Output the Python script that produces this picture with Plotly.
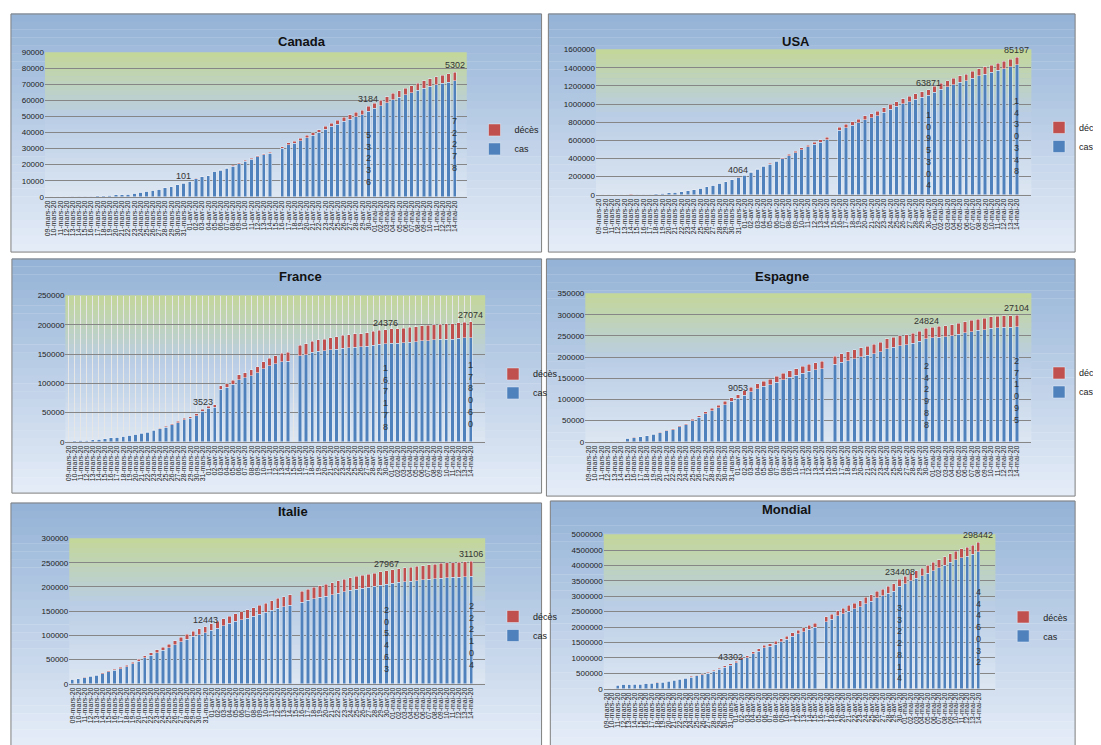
import plotly.graph_objects as go

W, H = 1101, 745

dates = ([f"{d:02d}-mars-20" for d in range(9, 32)]
         + [f"{d:02d}-avr-20" for d in range(1, 31)]
         + [f"{d:02d}-mai-20" for d in range(1, 15)])

# cas / décès par pays (None = jour manquant)
canada_cas = [77, 93, 108, 117, 193, 250, 341, 441, 598, 727, 873,
              1087, 1328, 1469, 2088, 2792, 3409, 4043, 4757, 5655, 6320, 7398,
              8527,
              9560, 11283, 12437, 12978, 15756, 16563, 17883, 19141, 20654, 22148, 23318, 24804, 26163, 27063,
              None,
              30106, 32412, 33383, 35056, 36829, 38422, 40190, 42110, 43888, 45354, 47138, 48500, 50026, 51150,
              53236,
              55061, 56714, 58712, 60616, 62046, 63496, 64922, 66434, 67702, 68848, 69981, 70771, 71486, 72278]
canada_deces = [1, 1, 1, 1, 1, 1, 1, 4, 8, 9, 12,
                13, 19, 21, 25, 27, 35, 39, 54, 61, 66, 89,
                101,
                119, 131, 182, 217, 261, 279, 324, 375, 425, 509, 569, 653, 714, 781,
                None,
                1010, 1195, 1264, 1357, 1470, 1591, 1758, 1915, 2075, 2228, 2380, 2560, 2707, 2859,
                3184,
                3311, 3566, 3682, 3854, 4003, 4167, 4232, 4480, 4628, 4697, 4871, 4993, 5169, 5302]

usa_cas = [566, 696, 1050, 1312, 2174, 2951, 3774, 4661, 6427, 9415, 14250,
           19624, 26747, 35206, 46442, 55231, 69194, 85991, 104686, 124665, 143025, 164620,
           189618,
           216722, 245540, 278458, 312245, 337072, 366667, 396223, 429052, 461437, 496535, 526396, 555313, 580619, 607670,
           None,
           710272, 738923, 763832, 792759, 828441, 849092, 873206, 906551, 944439, 972969, 1003974, 1027042, 1054614, 1072440,
           1095304,
           1131030, 1160774, 1188122, 1212835, 1237633, 1256972, 1283929, 1309550, 1329260, 1347881, 1369376, 1390406, 1408636, 1430348]
usa_deces = [22, 26, 31, 38, 41, 57, 69, 87, 108, 150, 207,
             256, 302, 414, 553, 705, 947, 1305, 1696, 2191, 2509, 3170,
             4064,
             5101, 6095, 7391, 8452, 9648, 10871, 12895, 14817, 16686, 18761, 20577, 22108, 23644, 26033,
             None,
             34475, 37183, 39015, 40575, 42514, 45075, 47412, 49963, 52160, 53755, 54881, 56219, 58355, 60967,
             63871,
             65753, 67444, 68919, 70115, 71064, 72271, 74799, 76898, 78771, 80037, 81795, 82389, 83425, 85197]

france_cas = [1200, 1700, 2200, 2800, 3600, 4400, 5300, 6500, 7600, 9000, 10800,
              12600, 14400, 16000, 19800, 22300, 25200, 29100, 32900, 37500, 40100, 44500,
              52128,
              56989, 59105, 89953, 92839, 98010, 106206, 109252, 112950, 117749, 124869, 129654, 133470, 136779, 137877,
              None,
              147091, 149130, 152894, 154715, 155383, 156921, 158050, 159877, 160847, 161644, 162220, 163474, 165093, 166420,
              167178,
              168396, 168693, 169583, 170551, 170687, 172465, 173040, 174191, 174918, 175027, 175225, 176658, 177423, 178060]
france_deces = [25, 33, 48, 61, 79, 91, 127, 148, 175, 264, 372,
                450, 562, 674, 860, 1100, 1331, 1696, 1995, 2314, 2606, 3024,
                3523,
                4032, 4503, 5387, 6507, 7560, 8078, 8911, 10328, 10869, 12210, 13197, 13832, 14393, 14967,
                None,
                17920, 18681, 19323, 19718, 20265, 20796, 21340, 21856, 22245, 22614, 22856, 23293, 23660, 24087,
                24376,
                24594, 24760, 24895, 25201, 25531, 25809, 25987, 26230, 26310, 26380, 26643, 26816, 26991, 27074]

espagne_cas = [0, 0, 0, 0, 0, 0,
               7798, 9942, 11748, 13910, 17963, 21571, 25374, 28768, 35136, 39885, 49515, 57786, 65719, 73235, 80110, 87956, 95923,
               102136,
               110238, 117710, 124736, 130759, 135032, 140510, 146690, 152446, 157022, 161852, 166019, 169496, 172541,
               None,
               182816, 188068, 191726, 195944, 200210, 204178, 208389, 213024, 219764, 223759, 226629, 229422, 232128, 236899,
               242988,
               245567, 247122, 248301, 250561, 253682, 256855, 260117, 262783, 264663, 268143, 269520, 270166, 270571, 271095]
espagne_deces = [0, 0, 0, 0, 0, 0,
                 288, 309, 491, 598, 767, 1002, 1326, 1720, 2182, 2696, 3434, 4089, 4858, 5690, 6528, 7340, 8189,
                 9053,
                 10003, 10935, 11744, 12418, 13055, 13798, 14555, 15238, 15843, 16353, 16972, 17489, 18056,
                 None,
                 19130, 20043, 20453, 20852, 21282, 21717, 22157, 22524, 22902, 23190, 23521, 23822, 24275, 24543,
                 24824,
                 25100, 25264, 25428, 25613, 25857, 26070, 26299, 26478, 26621, 26744, 26920, 26980, 27050, 27104]

italie_cas = [9172, 10149, 12462, 15113, 17660, 21157, 24747, 27980, 31506, 35713, 41035, 47021,
              53578, 59138, 63927, 69176, 74386, 80589, 86498, 92472, 97689, 101739, 105792,
              110574,
              115242, 119827, 124632, 128948, 132547, 135586, 139422, 143626, 147577, 152271, 156363, 159516, 162488,
              None,
              168941, 172434, 175925, 178972, 181228, 183957, 187327, 189973, 192994, 195351, 197675, 199414, 201505, 203591,
              205463,
              207428, 209328, 210717, 211938, 213013, 214457, 215858, 217185, 218268, 219070, 219814, 220500, 221216, 222104]
italie_deces = [463, 631, 827, 1016, 1266, 1441, 1809, 2158, 2503, 2978, 3405, 4032,
                4825, 5476, 6077, 6820, 7503, 8165, 9134, 10023, 10779, 11591, 12443,
                13155, 13915, 14681, 15362, 15887, 16523, 17127, 17669, 18279, 18849, 19468, 19899, 20465, 21067,
                None,
                22170, 22745, 23227, 23660, 24114, 24648, 25085, 25549, 25969, 26384, 26644, 26977, 27359, 27682,
                27967,
                28236, 28710, 28884, 29079, 29315, 29684, 29958, 30201, 30395, 30560, 30739, 30911, 31000, 31106]

mondial_cas = [0, 0,
               120000, 140000, 145000, 150000, 153000, 175000, 182000, 195000, 210000, 240000, 272000,
               305000, 338000, 380000, 418000, 460000, 510000, 570000, 630000, 700000,
               760000,
               850000, 945000, 1010000, 1130000, 1220000, 1330000, 1380000, 1450000, 1520000, 1600000,
               1700000, 1780000, 1850000, 1930000, 1990000,
               None,
               2170000, 2250000, 2360000, 2430000, 2520000, 2590000, 2660000, 2760000, 2840000, 2950000, 3010000, 3100000, 3170000,
               3322814,
               3410000, 3500000, 3580000, 3660000, 3740000, 3830000, 3920000, 4010000, 4100000, 4180000, 4250000, 4300000, 4360000, 4446032]
mondial_deces = [0, 0,
                 4600, 5400, 5800, 6500, 7100, 7900, 8900, 9800, 11000, 13000, 15000,
                 16500, 19000, 22000, 24500, 28000, 31500, 34000, 37500, 40500,
                 43302,
                 47000, 53000, 59000, 65000, 70000, 75000, 82000, 89000, 96000, 103000,
                 109000, 115000, 120000, 127000, 135000,
                 None,
                 160000, 166000, 172000, 177000, 183000, 190000, 196000, 200000, 206000, 211000, 217000, 222000, 228000,
                 234408,
                 240000, 245000, 250000, 255000, 260000, 266000, 271000, 276000, 280000, 284000, 288000, 291000, 295000, 298442]

# (titre, cas, décès, ymax, dtick, panneau px, zone de tracé px, idx label 1, grille x)
panels = [
    ("Canada", canada_cas, canada_deces, 90000, 10000, (2, 2, 548, 243), (37, 41, 471, 187), 22, False),
    ("USA", usa_cas, usa_deces, 1600000, 200000, (555, 2, 1097, 243), (604, 38, 1052, 185), 22, False),
    ("France", france_cas, france_deces, 250000, 50000, (3, 250, 548, 487), (58, 287, 490, 435), 22, True),
    ("Espagne", espagne_cas, espagne_deces, 350000, 50000, (553, 250, 1097, 490), (593, 285, 1052, 435), 23, False),
    ("Italie", italie_cas, italie_deces, 300000, 50000, (2, 497, 548, 743), (62, 533, 490, 680), 22, False),
    ("Mondial", mondial_cas, mondial_deces, 5000000, 500000, (557, 495, 1097, 743), (612, 529, 1015, 685), 22, False),
]

BLUE = "#4F81BD"
RED = "#C0504D"


def fx(px):
    return px / W


def fy(py):
    return 1 - py / H


def mix(c1, c2, t):
    return "rgb(%d,%d,%d)" % tuple(round(a + (b - a) * t) for a, b in zip(c1, c2))


fig = go.Figure()
shapes, annotations = [], []
layout = {}

for i, (name, cas, deces, ymax, dtick, pan, plot, lab1, xgrid) in enumerate(panels):
    n = i + 1
    xa = "x" if n == 1 else f"x{n}"
    ya = "y" if n == 1 else f"y{n}"
    lg = "legend" if n == 1 else f"legend{n}"

    # fond dégradé du panneau
    x0, y0, x1, y1 = pan
    steps = 30
    for k in range(steps):
        t = k / (steps - 1)
        shapes.append(dict(type="rect", xref="paper", yref="paper", layer="below",
                           x0=fx(x0), x1=fx(x1),
                           y0=fy(y0 + (y1 - y0) * (k + 1) / steps), y1=fy(y0 + (y1 - y0) * k / steps) + 0.0005,
                           fillcolor=mix((149, 179, 215), (228, 236, 247), t), line_width=0))
    shapes.append(dict(type="rect", xref="paper", yref="paper", x0=fx(x0), x1=fx(x1), y0=fy(y1), y1=fy(y0),
                       line=dict(color="#7F7F7F", width=1), fillcolor="rgba(0,0,0,0)"))

    # fond dégradé de la zone de tracé
    px0, py0, px1, py1 = plot
    for k in range(steps):
        t = k / (steps - 1)
        if t < 0.45:
            c = mix((196, 215, 155), (185, 205, 229), t / 0.45)
        else:
            c = mix((185, 205, 229), (220, 230, 242), (t - 0.45) / 0.55)
        shapes.append(dict(type="rect", xref="paper", yref="paper", layer="below",
                           x0=fx(px0), x1=fx(px1),
                           y0=fy(py0 + (py1 - py0) * (k + 1) / steps), y1=fy(py0 + (py1 - py0) * k / steps) + 0.0005,
                           fillcolor=c, line_width=0))

    fig.add_trace(go.Bar(x=dates, y=cas, name="cas", marker_color=BLUE, xaxis=xa, yaxis=ya, legend=lg))
    fig.add_trace(go.Bar(x=dates, y=deces, name="décès", marker_color=RED, xaxis=xa, yaxis=ya, legend=lg))

    layout["xaxis" if n == 1 else f"xaxis{n}"] = dict(
        domain=[fx(px0), fx(px1)], anchor=ya, type="category", tickangle=-90,
        tickmode="array", tickvals=dates, ticktext=dates,
        tickfont=dict(size=7, color="#222"), showgrid=xgrid, gridcolor="#E6E6E6",
        showline=True, linecolor="#868686", ticks="")
    layout["yaxis" if n == 1 else f"yaxis{n}"] = dict(
        domain=[fy(py1), fy(py0)], anchor=xa, range=[0, ymax], dtick=dtick, tickformat="d",
        tickfont=dict(size=8, color="#222"), gridcolor="#868686", showline=False, zeroline=False)
    layout[lg] = dict(x=fx(px1 + 8), y=fy((py0 + py1) / 2 + 15), xanchor="left", yanchor="middle",
                      traceorder="reversed", bgcolor="rgba(0,0,0,0)", font=dict(size=9, color="#222"),
                      itemwidth=30, tracegroupgap=0)

    annotations.append(dict(text=f"<b>{name}</b>", xref="paper", yref="paper", x=fx((x0 + x1) / 2),
                            y=fy(y0 + 18), showarrow=False, font=dict(size=13, color="#111")))
    for idx in (lab1, 52, 66):
        annotations.append(dict(text=str(deces[idx]), xref=xa, yref=ya, x=dates[idx], y=cas[idx] + deces[idx],
                                yanchor="bottom", showarrow=False, font=dict(size=9, color="#333")))
    for idx in (52, 66):
        annotations.append(dict(text="<br>".join(str(cas[idx])), xref=xa, yref=ya, x=dates[idx],
                                y=cas[idx] * 0.45, showarrow=False, font=dict(size=9, color="#333")))

fig.update_layout(
    width=W, height=H, margin=dict(l=0, r=0, t=0, b=0),
    paper_bgcolor="white", plot_bgcolor="rgba(0,0,0,0)",
    barmode="stack", bargap=0.45,
    font=dict(family="Liberation Sans, Arial, sans-serif"),
    shapes=shapes, annotations=annotations, **layout)

fig.write_html("out.html")
